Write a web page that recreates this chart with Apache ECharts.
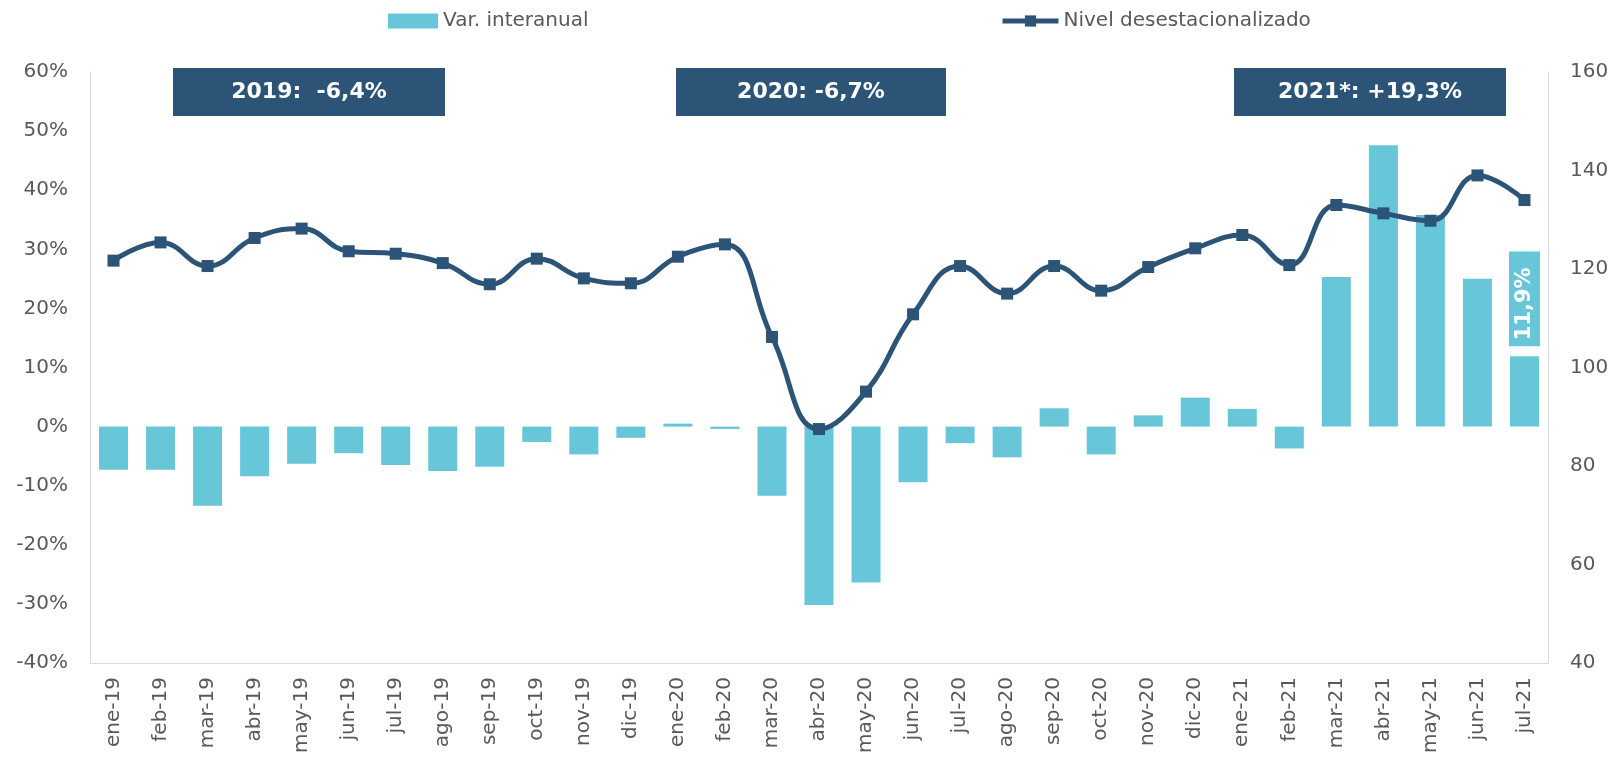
<!DOCTYPE html>
<html>
<head>
<meta charset="utf-8">
<script src="https://cdn.jsdelivr.net/npm/echarts@6/dist/echarts.min.js"></script>
<style>
  html, body { margin: 0; padding: 0; background: #fff; }
  #chart { width: 1616px; height: 761px; }
</style>
</head>
<body>
<div id="chart"></div>
<script>
const months = [
  "ene-19", "feb-19", "mar-19", "abr-19", "may-19", "jun-19", "jul-19", "ago-19", "sep-19", "oct-19", "nov-19", "dic-19",
  "ene-20", "feb-20", "mar-20", "abr-20", "may-20", "jun-20", "jul-20", "ago-20", "sep-20", "oct-20", "nov-20", "dic-20",
  "ene-21", "feb-21", "mar-21", "abr-21", "may-21", "jun-21", "jul-21"
];
// variación interanual (%)
const varInteranual = [
  -7.3, -7.3, -13.4, -8.4, -6.3, -4.5, -6.5, -7.5, -6.8, -2.6, -4.7, -1.9,
  0.5, -0.4, -11.7, -30.2, -26.4, -9.4, -2.8, -5.2, 3.1, -4.7, 1.9, 4.9,
  3.0, -3.7, 25.3, 47.6, 35.8, 25.0, 11.9
];
// nivel desestacionalizado (eje derecho)
const nivel = [
  121.7, 125.4, 120.6, 126.3, 128.2, 123.6, 123.1, 121.2, 116.9, 122.1, 118.1, 117.1,
  122.5, 125.0, 106.2, 87.5, 95.1, 110.8, 120.6, 115.0, 120.6, 115.6, 120.4, 124.2,
  126.9, 120.8, 133.0, 131.3, 129.8, 139.0, 134.0
];
const boxTexts = ["2019:  -6,4%", "2020: -6,7%", "2021*: +19,3%"];

const BAR = "#67c7d9";
const NAVY = "#2c5477";
const GREY = "#595959";
const FONT = "DejaVu Sans";

const chart = echarts.init(document.getElementById("chart"));

// etiqueta solo en el último mes
const barData = varInteranual.map((v, i) => {
  if (i !== varInteranual.length - 1) return v;
  return {
    value: v,
    label: {
      show: true,
      position: "top",
      rotate: 90,
      align: "left",
      verticalAlign: "middle",
      distance: 10,
      formatter: (p) => String(p.value).replace(".", ",") + "%",
      color: "#fff",
      fontFamily: FONT,
      fontWeight: "bold",
      fontSize: 21,
      backgroundColor: BAR,
      padding: [6, 16, 4, 6],
    },
  };
});

function makeBox(left, width, text) {
  return {
    type: "group",
    left: left,
    top: 68,
    children: [
      {
        type: "rect",
        shape: { x: 0, y: 0, width: width, height: 48 },
        style: { fill: NAVY },
      },
      {
        type: "text",
        x: width / 2,
        y: 24,
        style: {
          text: text,
          fill: "#fff",
          font: "bold 22px " + FONT,
          align: "center",
          verticalAlign: "middle",
        },
      },
    ],
  };
}

const option = {
  animation: false,
  textStyle: { fontFamily: FONT },
  legend: [
    {
      data: [{ name: "Var. interanual", icon: "rect" }],
      left: 383,
      top: 6,
      itemWidth: 50,
      itemHeight: 15,
      itemGap: 6,
      textStyle: { color: GREY, fontSize: 20, fontFamily: FONT },
    },
    {
      data: ["Nivel desestacionalizado"],
      left: 995,
      top: 6,
      itemWidth: 56,
      itemHeight: 14,
      lineStyle: { width: 5 },
      textStyle: { color: GREY, fontSize: 20, fontFamily: FONT },
    },
  ],
  grid: { left: 90, right: 68, top: 72, bottom: 98 },
  xAxis: {
    type: "category",
    data: months,
    axisLine: { onZero: false, lineStyle: { color: "#d9d9d9" } },
    axisTick: { show: false },
    axisLabel: { rotate: 90, color: GREY, fontSize: 20, margin: 14, interval: 0 },
  },
  yAxis: [
    {
      type: "value",
      min: -40,
      max: 60,
      interval: 10,
      axisLine: { show: true, lineStyle: { color: "#d9d9d9" } },
      axisTick: { show: false },
      splitLine: { show: false },
      axisLabel: { formatter: "{value}%", color: GREY, fontSize: 20, margin: 22 },
    },
    {
      type: "value",
      min: 40,
      max: 160,
      interval: 20,
      axisLine: { show: true, lineStyle: { color: "#d9d9d9" } },
      axisTick: { show: false },
      splitLine: { show: false },
      axisLabel: { color: GREY, fontSize: 20, margin: 22 },
    },
  ],
  series: [
    {
      name: "Var. interanual",
      type: "bar",
      data: barData,
      barWidth: 29,
      itemStyle: { color: BAR },
      z: 2,
    },
    {
      name: "Nivel desestacionalizado",
      type: "line",
      yAxisIndex: 1,
      data: nivel,
      smooth: 0.45,
      symbol: "rect",
      symbolSize: 12,
      lineStyle: { color: NAVY, width: 5 },
      itemStyle: { color: NAVY },
      z: 5,
    },
  ],
  graphic: [
    makeBox(173, 272, boxTexts[0]),
    makeBox(676, 270, boxTexts[1]),
    makeBox(1234, 272, boxTexts[2]),
  ],
};

chart.setOption(option);
</script>
</body>
</html>
